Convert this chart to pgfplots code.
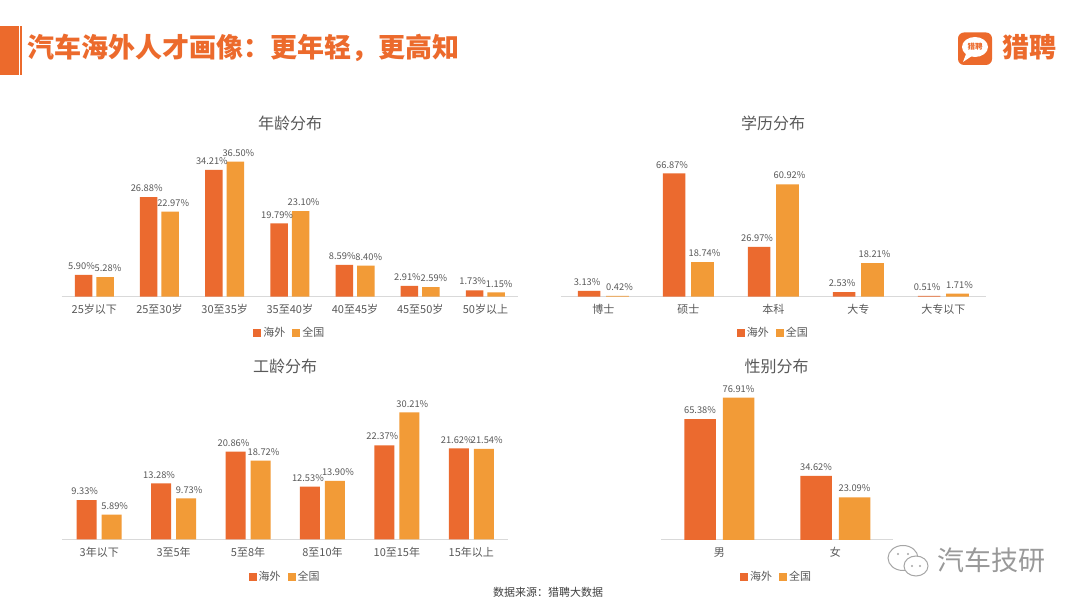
\documentclass[border=0pt]{standalone}
\usepackage{fontspec}
\setmainfont{Noto Sans CJK SC}
\usepackage{pgfplots}
\pgfplotsset{compat=1.18}
\definecolor{haiwai}{HTML}{EB6A2F}
\definecolor{quanguo}{HTML}{F29B37}
\definecolor{txt}{HTML}{595959}
\definecolor{axl}{HTML}{D9D9D9}
\definecolor{brand}{HTML}{EC6A2C}
\pgfplotsset{
  common/.style={
    scale only axis, anchor=south west, ymin=0, clip=false,
    axis x line*=bottom, hide y axis,
    x axis line style={draw=axl, line width=1pt},
    major tick length=0pt, xtick style={draw=none},
    enlarge x limits=false,
    nodes near coords={\pgfmathprintnumber[fixed,fixed zerofill,precision=2]{\pgfplotspointmeta}\%},
    every node near coord/.append style={font=\fontsize{9.3}{11}\selectfont, text=txt, inner sep=1pt, yshift=4pt},
    /pgf/number format/assume math mode=true,
    xticklabel style={font=\fontsize{11}{13}\selectfont, text=txt, yshift=-4pt},
    legend style={draw=none, fill=none, legend columns=-1, font=\fontsize{11}{13}\selectfont, text=txt,
      /tikz/every even column/.append style={column sep=5pt}},
  },
  sqlegend/.style={legend image code/.code={\fill[##1, draw=none] (0pt,-4pt) rectangle (8pt,4pt);}},
  hw/.style={fill=haiwai, draw=none},
  qg/.style={fill=quanguo, draw=none},
}
\begin{document}
\begin{tikzpicture}
\begin{scope}[x=1pt,y=1pt]
\path[fill=white, use as bounding box] (0,0) rectangle (1080,608);
% header
\fill[brand] (0,533) rectangle (19,582);
\fill[brand] (20.3,533) rectangle (22,582);
\node[anchor=west, text=brand, font=\fontsize{27}{30}\selectfont\bfseries, inner sep=0] at (27,560) {汽车海外人才画像：更年轻，更高知};
% logo
\fill[brand, rounded corners=6pt] (958,543) rectangle (992,575.5);
\fill[white] (975,561) ellipse (13 and 10);
\fill[white] (966,554) -- (963,546) -- (972,552) -- cycle;
\node[text=brand, font=\fontsize{7.5}{8}\selectfont\bfseries, inner sep=0] at (975,561) {猎聘};
\node[text=brand, font=\fontsize{27}{30}\selectfont\bfseries, inner sep=0] at (1029,561) {猎聘};
% panel titles
\node[text=txt, font=\fontsize{16}{18}\selectfont] at (290,485) {年龄分布};
\node[text=txt, font=\fontsize{16}{18}\selectfont] at (773,485) {学历分布};
\node[text=txt, font=\fontsize{16}{18}\selectfont] at (285,242) {工龄分布};
\node[text=txt, font=\fontsize{16}{18}\selectfont] at (776.7,241.3) {性别分布};
% footnote
\node[text=black!75, font=\fontsize{11}{13}\selectfont] at (548,16) {数据来源：猎聘大数据};
% watermark
\draw[gray!70, line width=1pt, fill=white] (903,50) ellipse (15 and 12.5);
\draw[gray!70, line width=1pt, fill=white] (916,42) ellipse (12 and 10);
\fill[gray!70] (898,54) circle (1.2) (908,54) circle (1.2) (912,42) circle (1.1) (920,42) circle (1.1);
\node[text=gray!80, font=\fontsize{27}{30}\selectfont, inner sep=0] at (991.5,48) {汽车技研};
\end{scope}

% ---------- 年龄分布
\begin{axis}[common, at={(61.7pt,311.3pt)}, width=456.3pt, height=150pt,
  ymax=40.5, xmin=-0.5, xmax=6.5, ybar=4pt, bar width=17.5pt, sqlegend,
  xtick={0,...,6}, xticklabels={25岁以下,25至30岁,30至35岁,35至40岁,40至45岁,45至50岁,50岁以上},
  legend style={at={(0.5,-0.24)}, anchor=center}]
\addplot[hw, every node near coord/.append style={xshift=-2pt}] coordinates {(0,5.90) (1,26.88) (2,34.21) (3,19.79) (4,8.59) (5,2.91) (6,1.73)};
\addplot[qg, every node near coord/.append style={xshift=3pt}] coordinates {(0,5.28) (1,22.97) (2,36.50) (3,23.10) (4,8.40) (5,2.59) (6,1.15)};
\legend{海外,全国}
\end{axis}

% ---------- 学历分布
\begin{axis}[common, at={(560.8pt,311.3pt)}, width=425pt, height=150pt,
  ymax=81.3, xmin=-0.5, xmax=4.5, ybar=5.7pt, bar width=22.7pt, sqlegend,
  xtick={0,...,4}, xticklabels={博士,硕士,本科,大专,大专以下},
  legend style={at={(0.5,-0.24)}, anchor=center}]
\addplot[hw, every node near coord/.append style={xshift=-2pt}] coordinates {(0,3.13) (1,66.87) (2,26.97) (3,2.53) (4,0.51)};
\addplot[qg, every node near coord/.append style={xshift=2pt}] coordinates {(0,0.42) (1,18.74) (2,60.92) (3,18.21) (4,1.71)};
\legend{海外,全国}
\end{axis}

% ---------- 工龄分布
\begin{axis}[common, at={(62pt,68.7pt)}, width=446.5pt, height=150pt,
  ymax=35.7, xmin=-0.5, xmax=5.5, ybar=5pt, bar width=20pt, sqlegend,
  xtick={0,...,5}, xticklabels={3年以下,3至5年,5至8年,8至10年,10至15年,15年以上},
  legend style={at={(0.5,-0.249)}, anchor=center}]
\addplot[hw, every node near coord/.append style={xshift=-2pt}] coordinates {(0,9.33) (1,13.28) (2,20.86) (3,12.53) (4,22.37) (5,21.62)};
\addplot[qg, every node near coord/.append style={xshift=3pt}] coordinates {(0,5.89) (1,9.73) (2,18.72) (3,13.90) (4,30.21) (5,21.54)};
\legend{海外,全国}
\end{axis}

% ---------- 性别分布
\begin{axis}[common, at={(661.3pt,68pt)}, width=232pt, height=160pt,
  ymax=86.5, xmin=-0.5, xmax=1.5, ybar=7pt, bar width=31.5pt, sqlegend,
  xtick={0,1}, xticklabels={男,女},
  legend style={at={(0.497,-0.229)}, anchor=center}]
\addplot[hw] coordinates {(0,65.38) (1,34.62)};
\addplot[qg] coordinates {(0,76.91) (1,23.09)};
\legend{海外,全国}
\end{axis}
\end{tikzpicture}
\end{document}
